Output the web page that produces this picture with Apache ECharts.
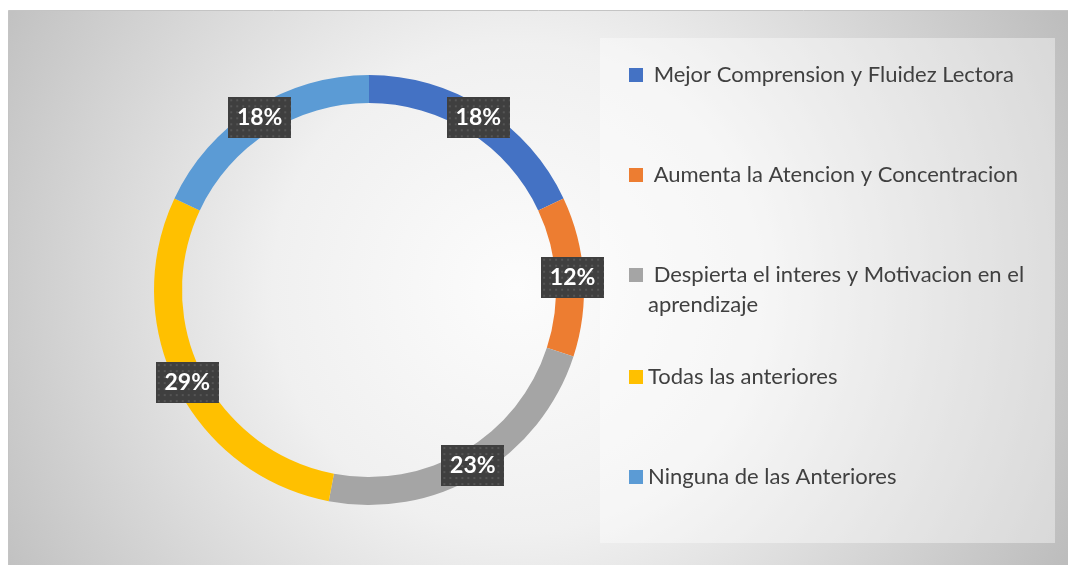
<!DOCTYPE html>
<html>
<head>
<meta charset="utf-8">
<script src="https://cdn.jsdelivr.net/npm/echarts@6/dist/echarts.min.js"></script>
<style>
  html, body { margin: 0; padding: 0; background: #fff; }
  #chart { width: 1068px; height: 565px; }
</style>
</head>
<body>
<div id="chart"></div>
<script>
// categorias y valores (%)
var categorias = [
    ' Mejor Comprension y Fluidez Lectora',
    ' Aumenta la Atencion y Concentracion',
    ' Despierta el interes y Motivacion en el',
    'Todas las anteriores',
    'Ninguna de las Anteriores'
];
var valores = [18, 12, 23, 29, 18];
var colores = ['#4472C4', '#ED7D31', '#A5A5A5', '#FFC000', '#5B9BD5'];
var leyendaY = [75, 175, 275, 377, 477];

// fondo punteado de las etiquetas
function patron(w, h) {
    var c = document.createElement('canvas');
    c.width = w; c.height = h;
    var ctx = c.getContext('2d');
    ctx.fillStyle = '#3f3f3f';
    ctx.fillRect(0, 0, w, h);
    ctx.fillStyle = '#555555';
    for (var x = 2; x < w; x += 6) {
        for (var y = 2; y < h; y += 6) {
            ctx.fillRect(x, y, 2, 2);
        }
    }
    return c;
}

var myChart = echarts.init(document.getElementById('chart'));

var option = {
    backgroundColor: '#ffffff',
    color: colores,
    graphic: [
        {
            type: 'rect', z: -10, silent: true,
            shape: { x: 8.5, y: 10.5, width: 1060, height: 555 },
            style: {
                fill: new echarts.graphic.RadialGradient(0.48, 0.5, 1.1, [
                    { offset: 0, color: '#fcfcfc' },
                    { offset: 0.4, color: '#f0f0f0' },
                    { offset: 1, color: '#bdbdbd' }
                ]),
                stroke: '#c4c4c4', lineWidth: 1
            }
        },
        {
            type: 'rect', z: -9, silent: true,
            shape: { x: 600, y: 38, width: 455, height: 505 },
            style: { fill: 'rgba(255,255,255,0.4)' }
        },
        {
            type: 'text', z: 10, silent: true,
            left: 648, top: 294,
            style: { text: 'aprendizaje', fill: '#404040', font: '22px Lato' }
        }
    ],
    legend: categorias.map(function (nombre, i) {
        return {
            data: [nombre],
            orient: 'vertical',
            left: 629,
            top: leyendaY[i] - 11,
            padding: 0,
            itemWidth: 14,
            itemHeight: 14,
            itemGap: 0,
            icon: 'rect',
            selectedMode: false,
            textStyle: { color: '#404040', fontSize: 22, fontFamily: 'Lato', lineHeight: 22 }
        };
    }),
    series: [
        {
            name: 'Respuestas',
            type: 'pie',
            center: [369, 290],
            radius: [187, 215],
            startAngle: 90,
            clockwise: true,
            avoidLabelOverlap: false,
            labelLine: { show: false },
            label: {
                show: true,
                position: 'inside',
                formatter: '{c}%',
                color: '#ffffff',
                fontFamily: 'Lato',
                fontWeight: 'bold',
                fontSize: 23,
                width: 63,
                height: 41,
                lineHeight: 41,
                align: 'center',
                padding: 0,
                backgroundColor: { image: patron(63, 41) },
                shadowColor: 'rgba(0,0,0,0.45)',
                shadowBlur: 4,
                shadowOffsetX: 3,
                shadowOffsetY: 3
            },
            emphasis: { scale: false },
            data: categorias.map(function (nombre, i) {
                return { name: nombre, value: valores[i] };
            })
        }
    ]
};

myChart.setOption(option);
</script>
</body>
</html>
